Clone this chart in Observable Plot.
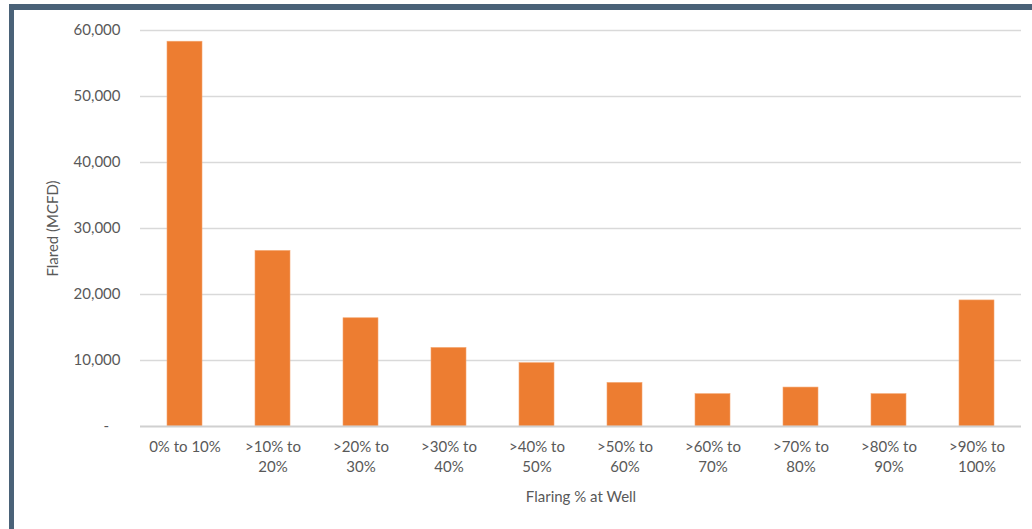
<!DOCTYPE html>
<html>
<head>
<meta charset="utf-8">
<script src="https://cdn.jsdelivr.net/npm/d3@7"></script>
<script src="https://cdn.jsdelivr.net/npm/@observablehq/plot@0.6"></script>
<style>
  html, body { margin: 0; padding: 0; background: #fff; width: 1032px; height: 529px; overflow: hidden; }
  #frame { position: absolute; left: 9px; top: 4px; width: 1040px; height: 540px;
           border-left: 5px solid #4a6278; border-top: 6px solid #4a6278; box-sizing: border-box; }
  #chart { position: absolute; left: 0; top: 0; }
  svg { font-family: Lato, "Open Sans", sans-serif; }
</style>
</head>
<body>
<div id="frame"></div>
<div id="chart"></div>
<script>
const categories = ["0% to 10%", ">10% to 20%", ">20% to 30%", ">30% to 40%", ">40% to 50%",
                    ">50% to 60%", ">60% to 70%", ">70% to 80%", ">80% to 90%", ">90% to 100%"];
const flared = [58300, 26600, 16400, 11900, 9600, 6600, 4900, 5900, 4900, 19100];
const yTicks = [0, 10000, 20000, 30000, 40000, 50000, 60000];

const data = categories.map((c, i) => ({category: c, value: flared[i]}));
const fmt = d3.format(",");
const textColor = "#595959";

const chart = Plot.plot({
  width: 1032,
  height: 529,
  marginLeft: 140,
  marginRight: 11,
  marginTop: 30,
  marginBottom: 103,
  style: {fontSize: "15px", color: textColor, background: "transparent"},
  x: {domain: categories, paddingInner: 0.6, paddingOuter: 0.3, align: 0.5},
  y: {domain: [0, 60000]},
  marks: [
    Plot.gridY(yTicks.filter(d => d > 0), {stroke: "#d9d9d9", strokeOpacity: 1, strokeWidth: 1.5}),
    Plot.axisY({ticks: yTicks, tickSize: 0, tickPadding: 20,
      tickFormat: d => d === 0 ? "-   " : fmt(d),
      fill: textColor, fontSize: 15,
      label: "Flared (MCFD)", labelAnchor: "center", labelArrow: "none", labelOffset: 93}),
    Plot.barY(data, {x: "category", y: "value", fill: "#ed7d31", stroke: "#f4a66f", strokeWidth: 0.6}),
    Plot.ruleY([0], {stroke: "#d0d0d0", strokeWidth: 2}),
    Plot.axisX({tickSize: 0, tickPadding: 11, lineHeight: 1.35,
      tickFormat: d => d === categories[0] ? d : d.replace(" to ", " to\n"),
      fill: textColor, fontSize: 15,
      label: "Flaring % at Well", labelAnchor: "center", labelArrow: "none", labelOffset: 75})
  ]
});
document.getElementById("chart").appendChild(chart);
</script>
</body>
</html>
